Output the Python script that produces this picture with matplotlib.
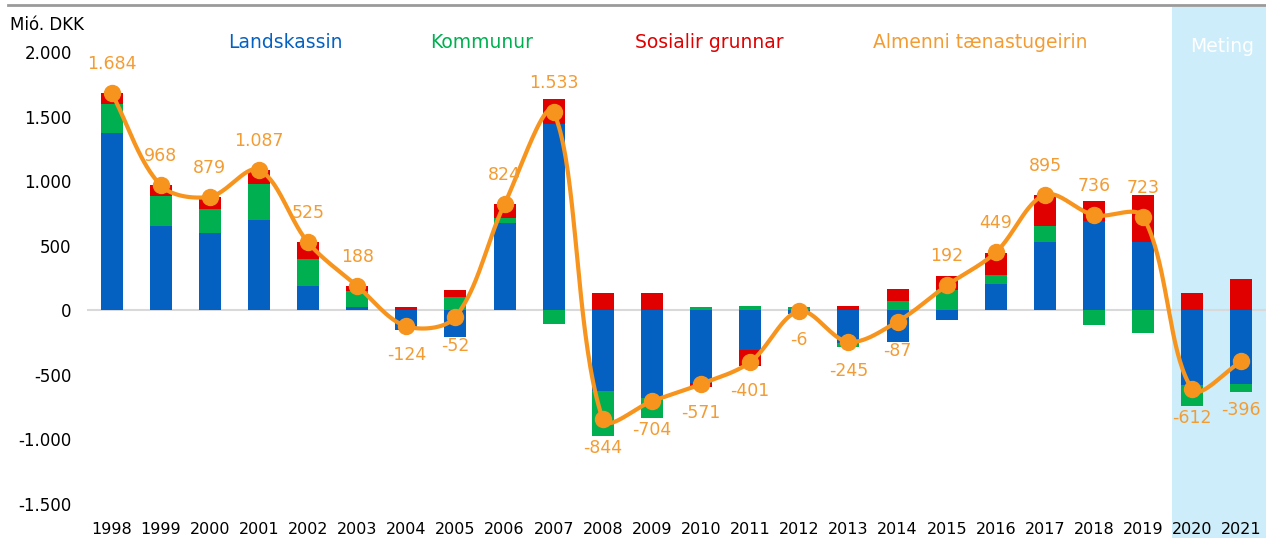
import matplotlib
matplotlib.use("Agg")
import matplotlib.pyplot as plt
from matplotlib.patches import Rectangle
from matplotlib.lines import Line2D
import numpy as np

# ---- data (Mió. DKK) ----
years = [str(y) for y in range(1998, 2022)]
landskassin = [1371, 650, 598, 699, 189, 25, -150, -210, 673, 1440, -627, -678,
               -562, -310, -30, -253, -249, -76, 205, 526, 694, 526, -580, -568]
kommunur = [229, 232, 186, 278, 211, 128, 0, 102, 39, -105, -350, -155,
            22, 32, 24, -31, 71, 158, 69, 126, -114, -174, -160, -64]
sosialir = [85, 86, 95, 110, 125, 35, 26, 56, 112, 198, 133, 130,
            -31, -124, 0, 37, 93, 111, 172, 243, 156, 368, 133, 241]
almenni = [1684, 968, 879, 1087, 525, 188, -124, -52, 824, 1533, -844, -704,
           -571, -401, -6, -245, -87, 192, 449, 895, 736, 723, -612, -396]
yticks = [-1500, -1000, -500, 0, 500, 1000, 1500, 2000]

BLUE = "#0561C1"
GREEN = "#00B050"
RED = "#E10000"
ORANGE = "#F7941E"
LABEL = "#F39C33"
SHADE = "#CCEDF9"


def fmt(v):
    return f"{v:,}".replace(",", ".")


def smooth(pts, n=40):
    # excel-like smoothed line, done in screen pixels
    # arms are scaled by neighbouring segment lengths so it overshoots less
    p = np.vstack([pts[0], pts, pts[-1]])
    out = []
    for i in range(1, len(p) - 2):
        p0, p1, p2, p3 = p[i - 1], p[i], p[i + 1], p[i + 2]
        d01 = np.linalg.norm(p1 - p0)
        d12 = np.linalg.norm(p2 - p1)
        d23 = np.linalg.norm(p3 - p2)
        f1 = d12 / (d01 + d12) / 3 if d01 + d12 > 0 else 0
        f2 = d12 / (d12 + d23) / 3 if d12 + d23 > 0 else 0
        c1 = p1 + (p2 - p0) * f1
        c2 = p2 - (p3 - p1) * f2
        t = np.linspace(0, 1, n)[:, None]
        seg = ((1 - t) ** 3) * p1 + 3 * ((1 - t) ** 2) * t * c1 + 3 * (1 - t) * t ** 2 * c2 + t ** 3 * p2
        out.append(seg)
    return np.vstack(out)


fig = plt.figure(figsize=(12.66, 5.38), dpi=100)
W, H = 1266, 538

# shaded forecast area (2020-2021), reaches under the tick labels
fig.patches.append(Rectangle((1172 / W, 0), 1 - 1172 / W, 1 - 7 / H,
                             transform=fig.transFigure, facecolor=SHADE,
                             edgecolor="none", zorder=-1))
# grey rule at the top
fig.add_artist(Line2D([8 / W, 1], [1 - 5 / H, 1 - 5 / H], transform=fig.transFigure,
                      color="#9A9A9A", lw=2))

ax = fig.add_axes([87 / W, 1 - 504 / H, (W - 87) / W, (504 - 52) / H])
ax.set_facecolor("none")

x = np.arange(len(years))
ax.set_xlim(-0.5, len(years) - 0.5)
ax.set_ylim(-1500, 2000)

pos = np.zeros(len(years))
neg = np.zeros(len(years))
for vals, col in [(landskassin, BLUE), (kommunur, GREEN), (sosialir, RED)]:
    v = np.array(vals, dtype=float)
    bottom = np.where(v >= 0, pos, neg)
    ax.bar(x, v, bottom=bottom, width=0.45, color=col, zorder=2)
    pos = pos + np.where(v >= 0, v, 0)
    neg = neg + np.where(v < 0, v, 0)

ax.axhline(0, color="#D9D9D9", lw=1.5, zorder=1)

disp = ax.transData.transform(np.column_stack([x, almenni]))
curve = ax.transData.inverted().transform(smooth(disp))
ax.plot(curve[:, 0], curve[:, 1], color=ORANGE, lw=3, zorder=3, solid_capstyle="round")
ax.plot(x, almenni, "o", color=ORANGE, markersize=11.5, zorder=4)

# labels above/below the points; the last one sits lower, under its bar
for xi, v in zip(x, almenni):
    off = 21 if v >= 0 else -21
    if xi == len(years) - 1:
        off = -35
    ax.annotate(fmt(v), (xi, v), xytext=(0, off), textcoords="offset points",
                ha="center", va="center", color=LABEL, fontsize=12.5, zorder=5)

ax.set_xticks(x)
ax.set_xticklabels(years, fontsize=11.5)
ax.set_yticks(yticks)
ax.set_yticklabels([fmt(t) for t in yticks], fontsize=12)
ax.tick_params(axis="x", length=0, pad=13)
ax.tick_params(axis="y", length=0, pad=11)
for s in ax.spines.values():
    s.set_visible(False)

fig.text(10 / W, 1 - 25 / H, "Mió. DKK", fontsize=12, va="center", ha="left")

legend_y = 1 - 43 / H
fig.text(285 / W, legend_y, "Landskassin", color=BLUE, fontsize=13.5, ha="center", va="center")
fig.text(482 / W, legend_y, "Kommunur", color=GREEN, fontsize=13.5, ha="center", va="center")
fig.text(709 / W, legend_y, "Sosialir grunnar", color=RED, fontsize=13.5, ha="center", va="center")
fig.text(980 / W, legend_y, "Almenni tænastugeirin", color=LABEL, fontsize=13.5, ha="center", va="center")
fig.text(1222 / W, 1 - 47 / H, "Meting", color="white", fontsize=13.5, ha="center", va="center")

fig.savefig("out.png", dpi=100)
